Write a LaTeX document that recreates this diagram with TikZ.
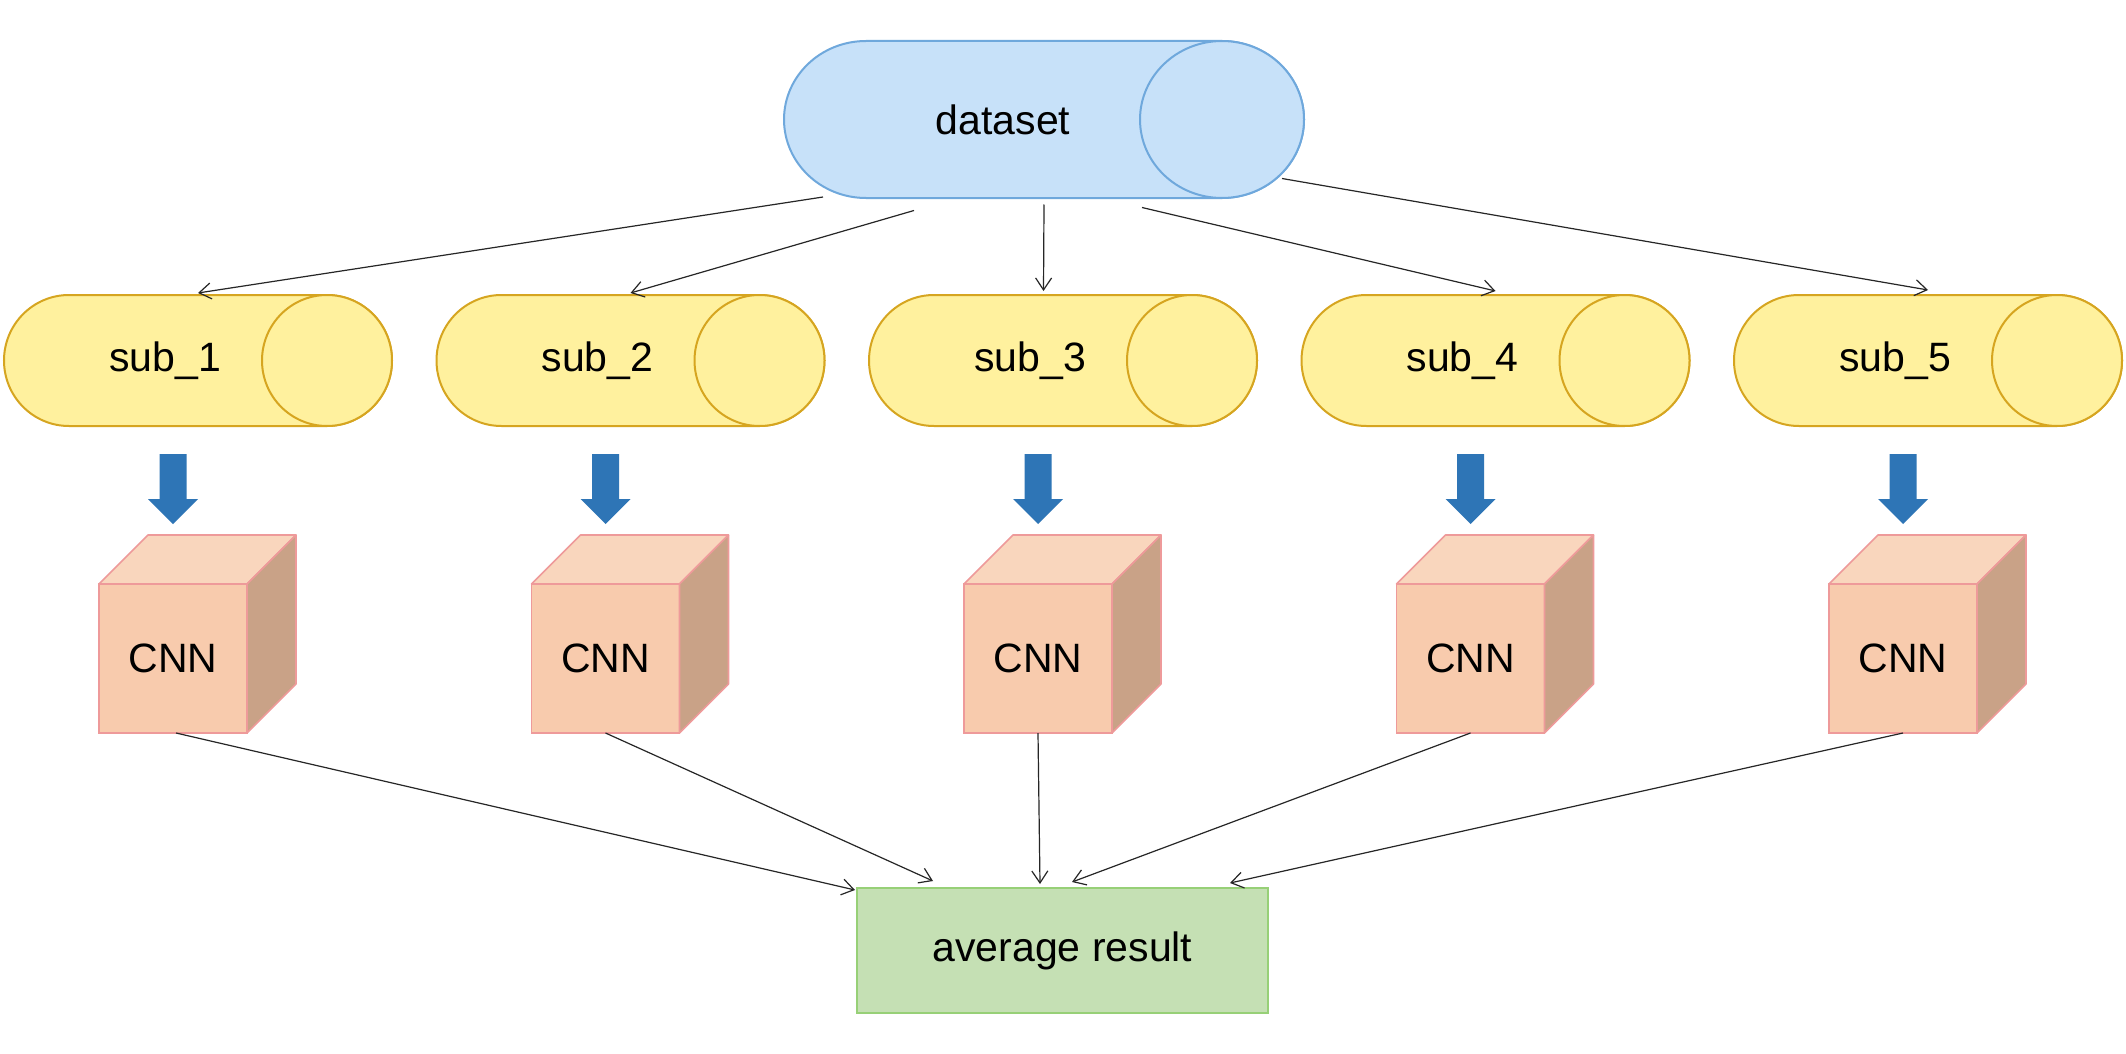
\documentclass[tikz,border=0pt]{standalone}
\usepackage{fontspec}
\setmainfont{Liberation Sans}
\usetikzlibrary{arrows.meta,calc}
\definecolor{dsfill}{HTML}{C7E1F9}
\definecolor{dsdraw}{HTML}{6FA8DC}
\definecolor{subfill}{HTML}{FFF19E}
\definecolor{subdraw}{HTML}{D6A520}
\definecolor{cnnfront}{HTML}{F8CBAD}
\definecolor{cnntop}{HTML}{F9D6BD}
\definecolor{cnnside}{HTML}{C9A287}
\definecolor{cnndraw}{HTML}{EE9A9A}
\definecolor{avgfill}{HTML}{C5E0B4}
\definecolor{avgdraw}{HTML}{97D077}
\definecolor{blockblue}{HTML}{2E75B6}
\newcommand\cylshape[5]{%
  \path[fill=#4,draw=#5,line width=1pt]
    ($(#1.north west)+(#2pt,0pt)$) arc[start angle=90,end angle=270,x radius=#2pt,y radius=#3pt]
    -- ($(#1.south east)+(-#2pt,0pt)$) arc[start angle=-90,end angle=90,x radius=#2pt,y radius=#3pt]
    -- cycle;
  \path[fill=#4,draw=#5,line width=1pt] ($(#1.east)+(-#2pt,0pt)$) ellipse[x radius=#2pt,y radius=#3pt];
}
\newcommand\cubefaces[1]{%
  \path[fill=cnntop,draw=cnndraw,line width=0.8pt,line join=round]
    (#1.north west) -- ($(#1.north west)+(49,-49)$) -- ($(#1.north east)+(49,-49)$) -- (#1.north east) -- cycle;
  \path[fill=cnnside,draw=cnndraw,line width=0.8pt,line join=round]
    (#1.north east) -- ($(#1.north east)+(49,-49)$) -- ($(#1.south east)+(49,-49)$) -- (#1.south east) -- cycle;
}
\newcommand\blockarrow[1]{%
  \fill[blockblue] ($(#1.north)+(-13.5,-130)$) -- ($(#1.north)+(13.5,-130)$) -- ($(#1.north)+(13.5,-85)$)
    -- ($(#1.north)+(25,-85)$) -- ($(#1.north)+(0,-60)$) -- ($(#1.north)+(-25,-85)$)
    -- ($(#1.north)+(-13.5,-85)$) -- cycle;
}
\begin{document}
\begin{tikzpicture}[x=0.5pt,y=-0.5pt,
  lbl/.style={font=\fontsize{20.5pt}{24pt}\selectfont, text=black},
  frame/.style={draw=none, inner sep=0pt, outer sep=0pt},
  subframe/.style={frame, minimum width=194pt, minimum height=65.5pt},
  cnnbox/.style={lbl, fill=cnnfront, draw=cnndraw, line width=0.8pt, inner sep=0pt, outer sep=0pt, minimum width=74pt, minimum height=74.5pt},
  avgbox/.style={lbl, fill=avgfill, draw=avgdraw, line width=1pt, inner sep=0pt, outer sep=0pt, minimum width=205.5pt, minimum height=62.5pt},
  conn/.style={draw=black!85, line width=0.6pt, -{Straight Barb[length=6pt,width=8pt]}}
]
\useasboundingbox (0,0) rectangle (2126,1054);
\fill[white] (0,0) rectangle (2126,1054);

% dataset
\node[frame, minimum width=260pt, minimum height=78.5pt] (ds) at (1044,119.5) {};
\cylshape{ds}{41}{39.25}{dsfill}{dsdraw}
\node[lbl] (dsT) at ($(ds.center)+(-41,0)$) {dataset};

% subs
\foreach \i in {1,...,5} {
  \node[subframe] (s\i) at ({198+432.5*(\i-1)},360.5) {};
  \cylshape{s\i}{32.5}{32.75}{subfill}{subdraw}
  \node[lbl] (s\i T) at ($(s\i.center)+(-33,0)$) {sub\_\i};
}

% cubes
\foreach \i in {1,...,5} {
  \node[cnnbox] (c\i) at ({173+432.5*(\i-1)},658.5) {CNN};
  \cubefaces{c\i}
  \blockarrow{c\i}
}

% average
\node[avgbox] (avg) at (1062.5,950.5) {average result};

% dataset -> subs
\draw[conn] ($(ds.center)+(-221,77.5)$) -- ($(s1.north)+(0,-2)$);
\draw[conn] ($(ds.center)+(-130,91)$) -- ($(s2.north)+(0,-2)$);
\draw[conn] ($(ds.center)+(0,85)$) -- ($(s3.north)+(-19.5,-4)$);
\draw[conn] ($(ds.center)+(98,88)$) -- ($(s4.north)+(0,-4)$);
\draw[conn] ($(ds.center)+(238,59)$) -- ($(s5.north)+(0,-5)$);

% cnn -> average
\draw[conn] ($(c1.south)+(3,0)$) -- ($(avg.north west)+(-2,2)$);
\draw[conn] (c2.south) -- ($(avg.north west)+(76,-7)$);
\draw[conn] (c3.south) -- ($(avg.north west)+(183,-4)$);
\draw[conn] (c4.south) -- ($(avg.north west)+(215,-6)$);
\draw[conn] (c5.south) -- ($(avg.north west)+(373,-5)$);
\end{tikzpicture}
\end{document}
